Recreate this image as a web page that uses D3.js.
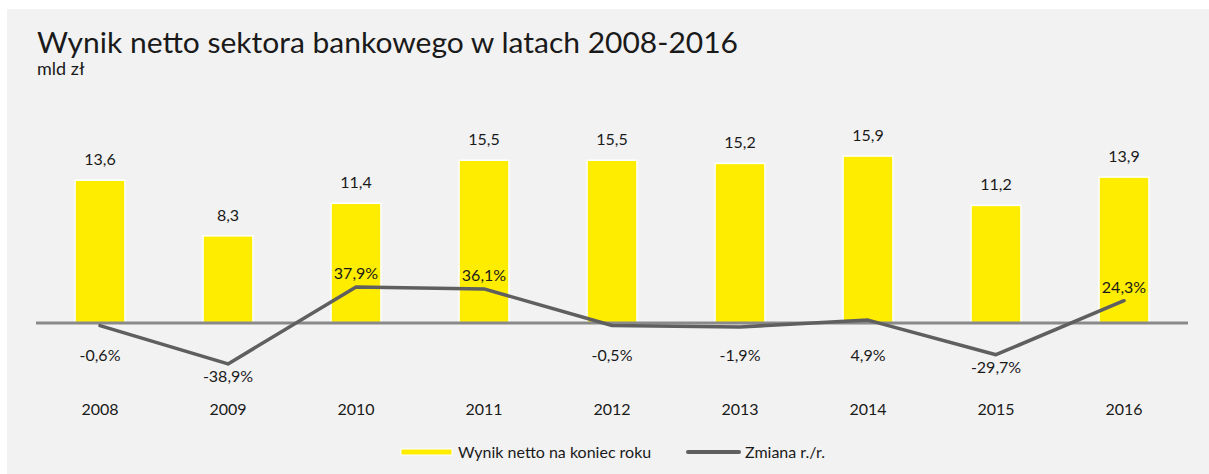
<!DOCTYPE html>
<html>
<head>
<meta charset="utf-8">
<script src="https://cdn.jsdelivr.net/npm/d3@7"></script>
<style>
  body { margin: 0; background: #ffffff; }
  svg { display: block; }
  text { font-family: 'Lato', 'Noto Sans', sans-serif; fill: #1a1a1a; }
</style>
</head>
<body>
<svg id="canvas" width="1209" height="474"></svg>
<script>
// data
let years = ['2008', '2009', '2010', '2011', '2012', '2013', '2014', '2015', '2016']
let netResult = [13.6, 8.3, 11.4, 15.5, 15.5, 15.2, 15.9, 11.2, 13.9]
let yoyChange = [-0.6, -38.9, 37.9, 36.1, -0.5, -1.9, 4.9, -29.7, 24.3]

let canvas = d3.select('#canvas')

let pl = d3.formatLocale({decimal: ',', thousands: ' ', grouping: [3], currency: ['', ' zł'], minus: '-'})
let fmtVal = pl.format('.1f')

// background panel
canvas.append('rect')
      .attr('x', 7)
      .attr('y', 9)
      .attr('width', 1202)
      .attr('height', 465)
      .attr('fill', '#f2f2f2')

canvas.append('text')
      .attr('x', 37)
      .attr('y', 53)
      .attr('font-size', 29)
      .attr('textLength', 701)
      .attr('lengthAdjust', 'spacingAndGlyphs')
      .text('Wynik netto sektora bankowego w latach 2008-2016')

canvas.append('text')
      .attr('x', 37)
      .attr('y', 75)
      .attr('font-size', 18)
      .text('mld zł')

let xScale = d3.scaleBand()
               .domain(years)
               .range([36, 1188])
               .paddingInner(0.61)
               .paddingOuter(0.305)

let yBar = d3.scaleLinear()
             .domain([0, 16])
             .range([323, 155])

let yPct = d3.scaleLinear()
             .domain([-40, 40])
             .range([365, 285])

let cx = (d, i) => xScale(years[i]) + xScale.bandwidth() / 2

// bars
canvas.selectAll('.bar')
      .data(netResult)
      .enter()
      .append('rect')
      .attr('class', 'bar')
      .attr('x', (d, i) => xScale(years[i]))
      .attr('y', (d) => yBar(d))
      .attr('width', xScale.bandwidth())
      .attr('height', (d) => yBar(0) - yBar(d))
      .attr('fill', '#ffed00')
      .attr('stroke', '#ffffff')
      .attr('stroke-width', 1.5)

canvas.selectAll('.bar-label')
      .data(netResult)
      .enter()
      .append('text')
      .attr('class', 'bar-label')
      .attr('x', cx)
      .attr('y', (d) => yBar(d) - 15)
      .attr('text-anchor', 'middle')
      .attr('font-size', 16)
      .text((d) => fmtVal(d))

// zero axis
canvas.append('line')
      .attr('x1', 36)
      .attr('x2', 1188)
      .attr('y1', yBar(0))
      .attr('y2', yBar(0))
      .attr('stroke', '#8a8a8a')
      .attr('stroke-width', 3)

// change line
let line = d3.line()
             .x((d, i) => cx(d, i))
             .y((d) => yPct(d))

canvas.append('path')
      .datum(yoyChange)
      .attr('d', line)
      .attr('fill', 'none')
      .attr('stroke', '#5f5f5f')
      .attr('stroke-width', 3.5)
      .attr('stroke-linecap', 'round')
      .attr('stroke-linejoin', 'round')

canvas.selectAll('.pct-label')
      .data(yoyChange)
      .enter()
      .append('text')
      .attr('class', 'pct-label')
      .attr('x', cx)
      .attr('y', (d) => d > 10 ? yPct(d) - 8 : Math.max(yPct(d) + 18, yBar(0) + 38))
      .attr('text-anchor', 'middle')
      .attr('font-size', 16)
      .text((d) => fmtVal(d) + '%')

// year labels
canvas.selectAll('.year')
      .data(years)
      .enter()
      .append('text')
      .attr('class', 'year')
      .attr('x', (d) => xScale(d) + xScale.bandwidth() / 2)
      .attr('y', 415)
      .attr('text-anchor', 'middle')
      .attr('font-size', 16)
      .text((d) => d)

// legend
let legend = canvas.append('g')

legend.append('rect')
      .attr('x', 401)
      .attr('y', 449)
      .attr('width', 51)
      .attr('height', 6)
      .attr('fill', '#ffed00')
      .attr('stroke', '#ffffff')
      .attr('stroke-width', 1)

legend.append('text')
      .attr('x', 458)
      .attr('y', 458)
      .attr('font-size', 16)
      .text('Wynik netto na koniec roku')

legend.append('line')
      .attr('x1', 688)
      .attr('x2', 739)
      .attr('y1', 452)
      .attr('y2', 452)
      .attr('stroke', '#5f5f5f')
      .attr('stroke-width', 4)
      .attr('stroke-linecap', 'round')

legend.append('text')
      .attr('x', 745)
      .attr('y', 458)
      .attr('font-size', 16)
      .text('Zmiana r./r.')
</script>
</body>
</html>
